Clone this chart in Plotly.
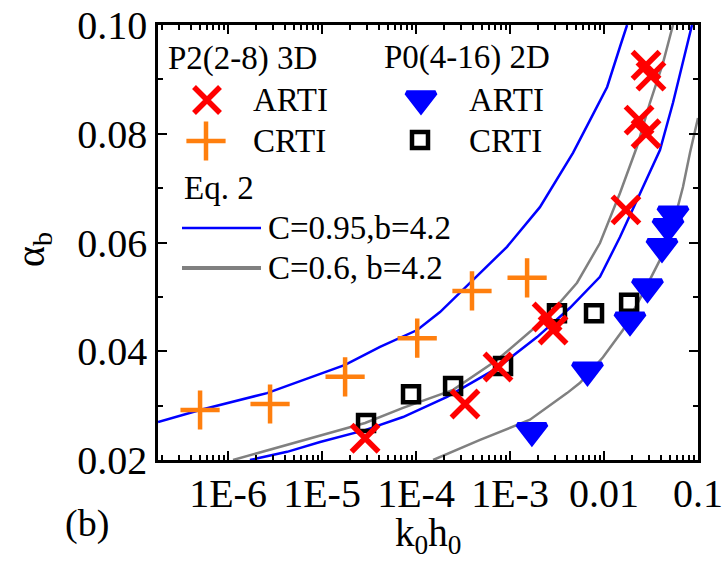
import plotly.graph_objects as go

# ---- axis ticks ----
x_tickvals = [1e-6, 1e-5, 1e-4, 1e-3, 1e-2, 1e-1]
x_ticktext = ["1E-6", "1E-5", "1E-4", "1E-3", "0.01", "0.1"]
y_tickvals = [0.02, 0.04, 0.06, 0.08, 0.10]
y_ticktext = ["0.02", "0.04", "0.06", "0.08", "0.10"]
y_minor = [0.03, 0.05, 0.07, 0.09]
x_minor = [m * 10.0 ** e for e in range(-7, -1) for m in range(2, 10)]

# ---- P2(2-8) 3D ----
arti3d_x = [2.87e-5, 3.32e-4, 7.45e-4, 2.48e-3, 2.87e-3, 1.71e-2, 2.36e-2, 2.80e-2, 2.80e-2, 3.16e-2]
arti3d_y = [0.0240, 0.0303, 0.0371, 0.0463, 0.0439, 0.0660, 0.0825, 0.0800, 0.0926, 0.0906]
crti3d_x = [5.04e-7, 2.80e-6, 1.76e-5, 1.03e-4, 3.94e-4, 1.52e-3]
crti3d_y = [0.0292, 0.0303, 0.0353, 0.0424, 0.0511, 0.0535]

# ---- P0(4-16) 2D ----
arti2d_x = [1.71e-3, 6.67e-3, 1.89e-2, 2.90e-2, 4.14e-2, 4.80e-2, 5.42e-2]
arti2d_y = [0.0254, 0.0365, 0.0457, 0.0518, 0.0592, 0.0629, 0.0652]
crti2d_x = [2.94e-5, 8.85e-5, 2.48e-4, 8.43e-4, 3.16e-3, 7.83e-3, 1.85e-2]
crti2d_y = [0.0268, 0.0321, 0.0336, 0.0373, 0.0470, 0.0470, 0.0489]

# ---- Eq. 2 curves ----
blue_a_x = [1.80e-7, 5.04e-7, 2.60e-6, 1.76e-5, 4.14e-5, 1.03e-4, 1.80e-4, 4.04e-4,
            9.29e-4, 2.08e-3, 4.68e-3, 7.10e-3, 1.08e-2, 1.48e-2, 1.76e-2]
blue_a_y = [0.0270, 0.0292, 0.0323, 0.0375, 0.0408, 0.0439, 0.0472, 0.0531,
            0.0592, 0.0665, 0.0765, 0.0825, 0.0886, 0.0960, 0.1000]
blue_b_x = [1.71e-6, 4.25e-6, 9.53e-6, 2.87e-5, 7.27e-5, 2.14e-4, 7.28e-4, 1.94e-3,
            4.35e-3, 9.06e-3, 1.48e-2, 2.41e-2, 3.94e-2, 5.42e-2, 6.92e-2, 8.63e-2]
blue_b_y = [0.0200, 0.0215, 0.0233, 0.0255, 0.0279, 0.0316, 0.0369, 0.0426,
            0.0480, 0.0537, 0.0610, 0.0691, 0.0770, 0.0857, 0.0930, 0.1000]
gray_a_x = [1.13e-6, 4.25e-6, 9.53e-6, 2.87e-5, 7.27e-5, 2.48e-4, 7.28e-4, 2.48e-3,
            5.17e-3, 9.06e-3, 1.48e-2, 2.24e-2, 3.08e-2, 4.24e-2, 5.42e-2]
gray_a_y = [0.0200, 0.0228, 0.0246, 0.0268, 0.0296, 0.0329, 0.0384, 0.0463,
            0.0526, 0.0599, 0.0691, 0.0776, 0.0857, 0.0930, 0.1000]
gray_b_x = [1.52e-4, 4.80e-4, 1.63e-3, 4.04e-3, 5.56e-3, 9.75e-3, 1.59e-2, 2.60e-2,
            3.94e-2, 5.42e-2, 6.92e-2, 8.22e-2, 1.00e-1]
gray_b_y = [0.0200, 0.0237, 0.0274, 0.0323, 0.0342, 0.0389, 0.0439, 0.0507,
            0.0568, 0.0632, 0.0702, 0.0765, 0.0829]

FONT = "Liberation Serif, Times New Roman, serif"
BLUE = "#0000ff"
GRAY = "#808080"
RED = "#ff0000"
ORANGE = "#ff7f0e"

W, H = 724, 563
L, R, T, B = 158, 26, 25, 103
PW, PH = W - L - R, H - T - B


def px(xp):
    return (xp - L) / PW


def py(yp):
    return (H - B - yp) / PH


fig = go.Figure()

# model curves
for cx, cy, col in [(blue_a_x, blue_a_y, BLUE), (blue_b_x, blue_b_y, BLUE),
                    (gray_a_x, gray_a_y, GRAY), (gray_b_x, gray_b_y, GRAY)]:
    fig.add_trace(go.Scatter(x=cx, y=cy, mode="lines",
                             line=dict(color=col, width=2.5), showlegend=False))

# simulation points
fig.add_trace(go.Scatter(x=crti2d_x, y=crti2d_y, mode="markers", showlegend=False,
                         marker=dict(symbol="square-open", size=16, color="black",
                                     line=dict(width=4.5, color="black"))))
fig.add_trace(go.Scatter(x=arti2d_x, y=arti2d_y, mode="markers", showlegend=False,
                         marker=dict(symbol="triangle-down", size=25, color=BLUE,
                                     line=dict(width=5, color=BLUE))))
fig.add_trace(go.Scatter(x=crti3d_x, y=crti3d_y, mode="markers", showlegend=False,
                         marker=dict(symbol="cross-thin", size=28, color=ORANGE,
                                     line=dict(width=4.5, color=ORANGE))))
fig.add_trace(go.Scatter(x=arti3d_x, y=arti3d_y, mode="markers", showlegend=False,
                         marker=dict(symbol="x-thin", size=27, color=RED,
                                     line=dict(width=5.5, color=RED))))

# legend keys on a pixel-scaled overlay axis
key_style = [
    ("x-thin", 26, RED, 5.5, 207, 100),
    ("cross-thin", 28, ORANGE, 4.5, 206, 141),
    ("triangle-down", 25, BLUE, 5, 421, 99),
    ("square-open", 16, "black", 4.5, 420, 140),
]
for sym, sz, col, lw, kx, ky in key_style:
    fig.add_trace(go.Scatter(x=[kx], y=[ky], xaxis="x2", yaxis="y2", mode="markers",
                             showlegend=False, cliponaxis=False,
                             marker=dict(symbol=sym, size=sz, color=col,
                                         line=dict(width=lw, color=col))))

fig.add_shape(type="line", xref="paper", yref="paper", x0=px(182), x1=px(261),
              y0=py(228), y1=py(228), line=dict(color=BLUE, width=2.5))
fig.add_shape(type="line", xref="paper", yref="paper", x0=px(182), x1=px(261),
              y0=py(268), y1=py(268), line=dict(color=GRAY, width=4))

legend_text = [
    ("P2(2-8) 3D", 166, 58),
    ("ARTI", 251, 100),
    ("CRTI", 251, 141),
    ("P0(4-16) 2D", 382, 57),
    ("ARTI", 467, 100),
    ("CRTI", 467, 141),
    ("Eq. 2", 182, 188),
    ("C=0.95,b=4.2", 266, 228),
    ("C=0.6, b=4.2", 266, 268),
]
for txt, tx, ty in legend_text:
    fig.add_annotation(text=txt, x=px(tx), y=py(ty), xref="paper", yref="paper",
                       xanchor="left", yanchor="middle", showarrow=False,
                       font=dict(family=FONT, size=33, color="black"))

# axis titles and panel tag
fig.add_annotation(text="α<sub>b</sub>", x=px(33), y=py(250), xref="paper", yref="paper",
                   textangle=-90, showarrow=False, xanchor="center", yanchor="middle",
                   font=dict(family=FONT, size=40, color="black"))
fig.add_annotation(text="k<sub>0</sub>h<sub>0</sub>", x=px(428), y=py(535), xref="paper",
                   yref="paper", showarrow=False, xanchor="center", yanchor="middle",
                   font=dict(family=FONT, size=39, color="black"))
fig.add_annotation(text="(b)", x=px(87), y=py(523), xref="paper", yref="paper",
                   showarrow=False, xanchor="center", yanchor="middle",
                   font=dict(family=FONT, size=38, color="black"))

axis_common = dict(showline=True, linecolor="black", linewidth=2.5, mirror="allticks",
                   ticks="inside", tickcolor="black", tickwidth=2, ticklen=9,
                   showgrid=False, zeroline=False, automargin=False,
                   tickfont=dict(family=FONT, size=40, color="black"))

fig.update_layout(
    width=W, height=H,
    margin=dict(l=L, r=R, t=T, b=B, autoexpand=False),
    font=dict(family=FONT, color="black"),
    paper_bgcolor="white", plot_bgcolor="white",
    xaxis=dict(type="log", range=[-6.745, -1.0], tickmode="array",
               tickvals=x_tickvals, ticktext=x_ticktext, ticklabelstandoff=-4,
               minor=dict(tickmode="array", tickvals=x_minor, ticks="inside",
                          ticklen=5, tickwidth=1.5, tickcolor="black", showgrid=False),
               **axis_common),
    yaxis=dict(range=[0.02, 0.10], tickmode="array",
               tickvals=y_tickvals, ticktext=y_ticktext,
               minor=dict(tickmode="array", tickvals=y_minor, ticks="inside",
                          ticklen=5, tickwidth=1.5, tickcolor="black", showgrid=False),
               **axis_common),
    xaxis2=dict(overlaying="x", range=[L, W - R], visible=False, fixedrange=True),
    yaxis2=dict(overlaying="y", range=[H - B, T], visible=False, fixedrange=True),
    showlegend=False,
)

fig.write_html("out.html")
